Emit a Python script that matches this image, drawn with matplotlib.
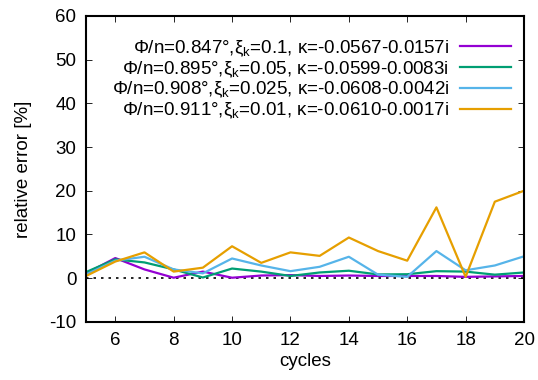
import matplotlib
matplotlib.use("Agg")
import matplotlib.pyplot as plt

plt.rcParams['font.family'] = ['Liberation Sans', 'DejaVu Sans']
plt.rcParams['mathtext.fontset'] = 'custom'
plt.rcParams['mathtext.rm'] = 'Liberation Sans'
plt.rcParams['mathtext.it'] = 'Liberation Sans'
plt.rcParams['axes.unicode_minus'] = False

cycles = list(range(5, 21))
err_01 = [1.1, 4.6, 2.0, 0.1, 1.5, 0.1, 0.6, 0.7, 0.5, 0.6, 0.5, 0.5, 0.5, 0.3, 0.4, 0.5]
err_005 = [1.4, 4.3, 3.6, 2.0, 0.15, 2.2, 1.5, 0.5, 1.3, 1.7, 0.85, 0.9, 1.6, 1.5, 0.8, 1.3]
err_0025 = [0.85, 4.0, 4.9, 2.0, 1.1, 4.5, 2.9, 1.6, 2.6, 4.9, 0.8, 0.3, 6.2, 1.8, 2.9, 5.0]
err_001 = [0.5, 3.8, 5.9, 1.5, 2.4, 7.3, 3.5, 5.9, 5.1, 9.3, 6.2, 4.0, 16.2, 0.3, 17.5, 20.0]

labels = [
    'Φ/n=0.847°,ξ$_\\mathrm{k}$=0.1, κ=-0.0567-0.0157i',
    'Φ/n=0.895°,ξ$_\\mathrm{k}$=0.05, κ=-0.0599-0.0083i',
    'Φ/n=0.908°,ξ$_\\mathrm{k}$=0.025, κ=-0.0608-0.0042i',
    'Φ/n=0.911°,ξ$_\\mathrm{k}$=0.01, κ=-0.0610-0.0017i',
]
colors = ['#9400d3', '#009e73', '#56b4e9', '#e69f00']
series = [err_01, err_005, err_0025, err_001]

fs = 13.5
fig = plt.figure(figsize=(5.38, 3.8), dpi=100)
ax = fig.add_axes([0.160, 0.153, 0.814, 0.805])

ax.axhline(0, color='black', linestyle=(0, (1.5, 3)), linewidth=1.2)
for ys, c, lab in zip(series, colors, labels):
    ax.plot(cycles, ys, color=c, linewidth=1.6, label=lab)

ax.set_xlim(5, 20)
ax.set_ylim(-10, 60)
ax.set_xticks(range(6, 21, 2))
ax.set_yticks(range(-10, 61, 10))
ax.tick_params(direction='in', top=True, right=True, labelsize=fs, length=4, width=0.6, pad=7)
for sp in ax.spines.values():
    sp.set_linewidth(1.5)

ax.set_xlabel('cycles', fontsize=fs, labelpad=3)
ax.set_ylabel('relative error [%]', fontsize=fs, labelpad=12)

ax.legend(loc='upper right', frameon=False, markerfirst=False, fontsize=fs,
          handlelength=2.7, labelspacing=0.02, handletextpad=0.6,
          borderaxespad=0.3, bbox_to_anchor=(1.0, 0.97))

fig.savefig('out.png', dpi=100)
